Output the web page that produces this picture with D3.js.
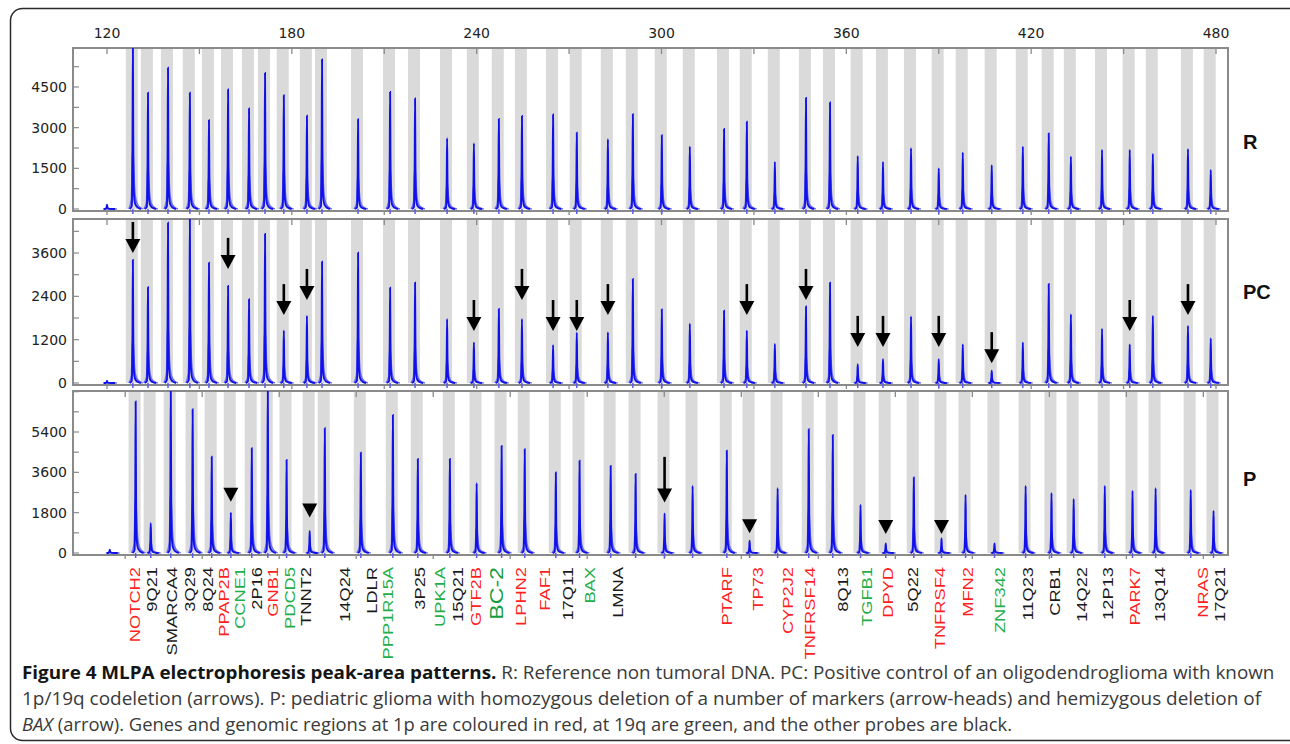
<!DOCTYPE html>
<html>
<head>
<meta charset="utf-8">
<script src="https://cdn.jsdelivr.net/npm/d3@7"></script>
<style>
  body { margin: 0; background: #fff; }
  svg { display: block; font-family: "DejaVu Sans", Verdana, sans-serif; }
</style>
</head>
<body>
<svg width="1290" height="744"></svg>
<script>
// probes in order of fragment size
const probes = ['NOTCH2','9Q21','SMARCA4','3Q29','8Q24','PPAP2B','CCNE1','2P16','GNB1','PDCD5','TNNT2',
  '14Q24','LDLR','PPP1R15A','3P25','UPK1A','15Q21','GTF2B','BC-2','LPHN2','FAF1','17Q11','BAX','LMNA',
  'PTARF','TP73','CYP2J2','TNFRSF14','8Q13','TGFB1','DPYD','5Q22','TNFRSF4','MFN2','ZNF342','11Q23',
  'CRB1','14Q22','12P13','PARK7','13Q14','NRAS','17Q21'];
const probeSize = [128.4,133.3,139.8,146.9,153.1,159.3,166.1,171.3,177.4,184.9,189.8,
  201.5,211.9,220,230.4,239.1,247.2,254.7,264.8,272.5,282.6,290.7,300.1,309.2,
  320.3,327.7,336.8,346.9,354.7,363.7,371.9,381,390,397.8,407.2,417.3,
  425.7,432.9,443,452,459.5,470.9,478.3];
// 1p = red, 19q = green, o = other
const probeRegion = ['1p','o','o','o','o','1p','19q','o','1p','19q','o',
  'o','o','19q','o','19q','o','1p','19q','1p','1p','o','19q','o',
  '1p','1p','1p','1p','o','19q','1p','o','1p','1p','19q','o',
  'o','o','o','1p','o','1p','o'];
// where each label sits on the size axis
const labelAt = [129.1,134.6,141.1,146.9,152.5,158,163.2,168.4,173.6,179.4,184.6,
  197.2,206,211.2,221.6,228.1,233.9,239.8,246.3,254.1,262.2,269.6,276.8,285.9,
  321.2,331.3,341,348.2,358.9,366.7,373.5,381.6,390.4,399.4,409.8,418.9,
  427.7,436.5,444.9,453.7,461.8,475.7,481.3];

const heightR = [6100,4290,5210,4290,3280,4410,3710,5020,4200,3440,5520,
  3310,4320,4080,2610,2420,3320,3430,3490,2810,2570,3500,2720,2300,
  2950,3220,1740,4100,3930,1950,1740,2240,1500,2080,1620,2300,
  2790,1930,2180,2180,2030,2210,1440];
const heightPC = [3410,2650,4440,4600,3330,2690,2320,4130,1450,1860,3360,
  3610,2640,2780,1770,1120,2050,1770,1050,1390,1400,2880,2040,1640,
  2000,1450,1080,2120,2780,520,660,1840,660,1070,340,1120,
  2740,1900,1500,1070,1860,1580,1240];
const heightP = [6760,1330,7400,6420,4300,1800,4680,7400,4150,980,5570,
  4480,6160,4200,4200,3110,4780,4630,3590,4120,3890,3530,1770,2990,
  4570,550,2890,5520,5270,2140,430,3370,650,2590,430,2990,
  2670,2410,2990,2770,2890,2810,1880];

// size marker bump at 120 bp
const markerSize = 120;
const markerHeight = { R: 160, PC: 60, P: 150 };

// arrows in PC (tip level in peak-area units)
const pcArrowProbes = ['NOTCH2','PPAP2B','GNB1','PDCD5','UPK1A','GTF2B','BC-2','LPHN2','FAF1',
  'TP73','TNFRSF14','TGFB1','DPYD','TNFRSF4','ZNF342','PARK7','NRAS'];
const pcArrowTips = [3600,3160,1880,2300,1440,2300,1440,1440,1880,
  1880,2300,1000,1000,1000,550,1440,1880];
// arrow-heads in P
const pHeadProbes = ['PPAP2B','PDCD5','TP73','DPYD','TNFRSF4'];
const pHeadTips = [2290,1580,880,850,850];
// hemizygous arrow in P
const pArrowProbe = 'BAX';
const pArrowTip = 2250;
const pArrowTail = 4290;

const sizeTicks = [120,180,240,300,360,420,480];

const svg = d3.select('svg');
const x = d3.scaleLinear().domain([120, 480]).range([107, 1216]);
const plotL = 73, plotR = 1228;
const regionColor = { '1p': '#ff1f1f', '19q': '#1fae4a', 'o': '#1a1a1a' };

// outer frame
svg.append('rect').attr('x', 10.5).attr('y', 8.5).attr('width', 1290).attr('height', 732)
  .attr('rx', 12).attr('fill', 'none').attr('stroke', '#2a2a2a').attr('stroke-width', 1.5);

// top size labels
svg.append('g').selectAll('text').data(sizeTicks).enter().append('text')
  .attr('x', d => x(d)).attr('y', 38).attr('text-anchor', 'middle')
  .attr('font-size', 14).attr('fill', '#222').text(d => d);

const panels = [
  { key: 'R', h: heightR, top: 48, zero: 209, ref: 4500, refY: 87, yTicks: [0,1500,3000,4500], minor: 750,
    shift: 0, xTicks: d3.range(120, 481, 30), labelY: 142 },
  { key: 'PC', h: heightPC, top: 219, zero: 383, ref: 3600, refY: 253, yTicks: [0,1200,2400,3600], minor: 600,
    shift: 0, xTicks: d3.range(120, 481, 30), labelY: 292 },
  { key: 'P', h: heightP, top: 391, zero: 553, ref: 5400, refY: 432, yTicks: [0,1800,3600,5400], minor: 900,
    shift: 0.9, xTicks: d3.range(125, 476, 25), labelY: 479 }
];

const darkShape = [[-1.0,0],[-0.35,0.02],[-0.12,0.45],[0,1],[0.12,0.45],[0.32,0.1],[0.7,0.035],[1.5,0.01],[2.6,0]];
const lightShape = [[-1.3,0],[-0.5,0.06],[-0.2,0.3],[0,0.36],[0.22,0.28],[0.55,0.13],[1.05,0.05],[2.0,0.015],[3.2,0]];

panels.forEach((p, pi) => {
  const y = d3.scaleLinear().domain([0, p.ref]).range([p.zero, p.refY]);
  const g = svg.append('g');
  const bottom = p.zero + 2;
  const clipId = 'clip' + pi;
  svg.append('clipPath').attr('id', clipId).append('rect')
    .attr('x', plotL).attr('y', p.top).attr('width', plotR - plotL).attr('height', bottom - p.top + 6);

  const sx = s => x(s + p.shift);

  // gray bins
  g.selectAll('rect.bin').data(probeSize).enter().append('rect')
    .attr('x', d => sx(d - 2.3)).attr('width', d => sx(d + 1.6) - sx(d - 2.3))
    .attr('y', p.top).attr('height', p.zero - p.top).attr('fill', '#dadada');

  // frame
  g.append('rect').attr('x', plotL).attr('y', p.top).attr('width', plotR - plotL).attr('height', bottom - p.top)
    .attr('fill', 'none').attr('stroke', '#8a8a8a').attr('stroke-width', 2);

  // size ticks on top and bottom edges
  g.selectAll('line.tt').data(p.xTicks).enter().append('line')
    .attr('x1', d => sx(d)).attr('x2', d => sx(d)).attr('y1', p.top).attr('y2', p.top + 6)
    .attr('stroke', '#8a8a8a').attr('stroke-width', 1.3);
  g.selectAll('line.bt').data(p.xTicks).enter().append('line')
    .attr('x1', d => sx(d)).attr('x2', d => sx(d)).attr('y1', bottom).attr('y2', bottom + 4)
    .attr('stroke', '#8a8a8a').attr('stroke-width', 1.3);

  // y ticks
  const maxVal = y.invert(p.top);
  const minors = d3.range(0, maxVal, p.minor);
  g.selectAll('line.yt').data(minors).enter().append('line')
    .attr('x1', plotL).attr('x2', plotL + 6).attr('y1', d => y(d)).attr('y2', d => y(d))
    .attr('stroke', '#8a8a8a').attr('stroke-width', 1.2);
  g.selectAll('text.yl').data(p.yTicks).enter().append('text')
    .attr('x', 67).attr('y', d => y(d)).attr('dy', '0.36em').attr('text-anchor', 'end')
    .attr('font-size', 14).attr('fill', '#222').text(d => d);

  // peak traces
  const tr = svg.append('g').attr('clip-path', 'url(#' + clipId + ')');
  const peaks = probeSize.map((s, i) => ({ s: s, v: p.h[i] }));
  peaks.push({ s: markerSize, v: markerHeight[p.key] });
  const lineFor = shape => d => d3.line().curve(d3.curveMonotoneX)
    .x(q => sx(d.s + q[0])).y(q => y(d.v * q[1]))(shape);
  tr.selectAll('path.light').data(peaks).enter().append('path')
    .attr('d', lineFor(lightShape)).attr('fill', 'none').attr('stroke', '#6b6bf5').attr('stroke-width', 1.5);
  tr.selectAll('path.dark').data(peaks).enter().append('path')
    .attr('d', lineFor(darkShape)).attr('fill', 'none').attr('stroke', '#1010e8').attr('stroke-width', 1.9);
  // peak markers under baseline
  tr.selectAll('line.pm').data(probeSize).enter().append('line')
    .attr('x1', d => sx(d)).attr('x2', d => sx(d)).attr('y1', p.zero).attr('y2', p.zero + 5)
    .attr('stroke', '#5a5af0').attr('stroke-width', 1.5);

  // panel name
  svg.append('text').attr('x', 1243).attr('y', p.labelY).attr('dy', '0.36em')
    .attr('font-family', '"Liberation Sans", Arial, sans-serif').attr('font-weight', 'bold')
    .attr('font-size', 20).attr('fill', '#111').text(p.key);

  p.yScale = y;
  p.sx = sx;
});

function drawArrow(px, tipY, len) {
  const hw = 7.5, hh = 14;
  svg.append('line').attr('x1', px).attr('x2', px).attr('y1', tipY - len).attr('y2', tipY - hh + 1)
    .attr('stroke', '#000').attr('stroke-width', 2.6);
  svg.append('path').attr('d', `M${px - hw},${tipY - hh}L${px + hw},${tipY - hh}L${px},${tipY}Z`).attr('fill', '#000');
}
function drawHead(px, tipY) {
  const hw = 7.5, hh = 14;
  svg.append('path').attr('d', `M${px - hw},${tipY - hh}L${px + hw},${tipY - hh}L${px},${tipY}Z`).attr('fill', '#000');
}

const pc = panels[1], pp = panels[2];
pcArrowProbes.forEach((n, i) => {
  const s = probeSize[probes.indexOf(n)];
  drawArrow(pc.sx(s), pc.yScale(pcArrowTips[i]), 31);
});
pHeadProbes.forEach((n, i) => {
  const s = probeSize[probes.indexOf(n)];
  drawHead(pp.sx(s), pp.yScale(pHeadTips[i]));
});
{
  const s = probeSize[probes.indexOf(pArrowProbe)];
  const tipY = pp.yScale(pArrowTip);
  drawArrow(pp.sx(s), tipY, tipY - pp.yScale(pArrowTail));
}

// probe names
svg.append('g').selectAll('text').data(probes).enter().append('text')
  .attr('transform', (d, i) => `translate(${x(labelAt[i])},567) rotate(-90) scale(1.22,1)`)
  .attr('dy', '0.36em').attr('text-anchor', 'end')
  .attr('font-family', '"Liberation Sans", Arial, sans-serif')
  .attr('font-size', d => d === 'BC-2' ? 19 : 15)
  .attr('fill', (d, i) => d === 'BC-2' ? '#129c3c' : regionColor[probeRegion[i]])
  .text(d => d);

// caption
const cap = svg.append('g').attr('font-family', '"Liberation Sans Narrow", "Open Sans", sans-serif')
  .attr('font-size', 18.5).attr('fill', '#3a3a3a');
const lines = [
  { y: 679, w: 1254, parts: [['Figure 4 MLPA electrophoresis peak-area patterns.', 'bold'],
    [' R: Reference non tumoral DNA. PC: Positive control of an oligodendroglioma with known', '']] },
  { y: 705, w: 1240, parts: [['1p/19q codeletion (arrows). P: pediatric glioma with homozygous deletion of a number of markers (arrow-heads) and hemizygous deletion of', '']] },
  { y: 731, w: 991, parts: [['BAX', 'italic'], [' (arrow). Genes and genomic regions at 1p are coloured in red, at 19q are green, and the other probes are black.', '']] }
];
lines.forEach(l => {
  const t = cap.append('text').attr('x', 0).attr('y', 0).attr('xml:space', 'preserve');
  l.parts.forEach(pt => {
    const ts = t.append('tspan').text(pt[0]);
    if (pt[1] === 'bold') ts.attr('font-weight', 'bold').attr('fill', '#151515');
    if (pt[1] === 'italic') ts.attr('font-style', 'italic');
  });
  const bw = t.node().getComputedTextLength();
  t.attr('transform', `translate(22,${l.y}) scale(${l.w / bw},1)`);
});
</script>
</body>
</html>
